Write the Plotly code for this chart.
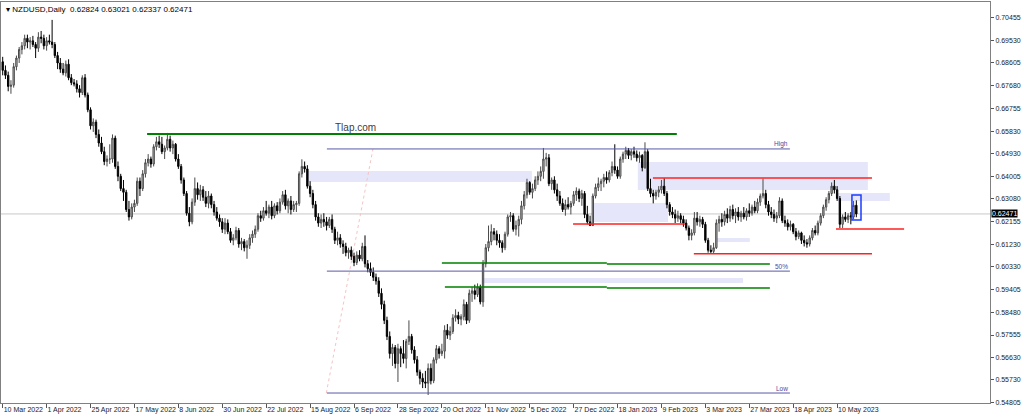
import plotly.graph_objects as go

opens = [
0.6865,0.6830,0.6810,0.6765,0.6770,0.6845,0.6880,0.6915,0.6930,0.6960,
0.6945,0.6950,0.6935,0.6920,0.6965,0.6960,0.6930,0.6950,0.6945,0.6935,
0.6890,0.6860,0.6835,0.6820,0.6855,0.6800,0.6780,0.6775,0.6755,0.6740,
0.6800,0.6730,0.6670,0.6605,0.6620,0.6570,0.6535,0.6500,0.6460,0.6470,
0.6470,0.6555,0.6440,0.6400,0.6350,0.6335,0.6265,0.6235,0.6275,0.6290,
0.6380,0.6350,0.6410,0.6455,0.6470,0.6450,0.6520,0.6540,0.6530,0.6500,
0.6515,0.6550,0.6515,0.6530,0.6470,0.6440,0.6385,0.6330,0.6250,0.6215,
0.6295,0.6350,0.6325,0.6345,0.6315,0.6290,0.6320,0.6285,0.6255,0.6230,
0.6215,0.6185,0.6210,0.6175,0.6140,0.6150,0.6180,0.6125,0.6135,0.6110,
0.6120,0.6150,0.6165,0.6185,0.6240,0.6230,0.6260,0.6250,0.6275,0.6240,
0.6280,0.6260,0.6295,0.6325,0.6280,0.6300,0.6265,0.6285,0.6290,0.6410,
0.6440,0.6430,0.6360,0.6330,0.6285,0.6235,0.6210,0.6225,0.6215,0.6200,
0.6225,0.6185,0.6140,0.6150,0.6125,0.6115,0.6090,0.6100,0.6075,0.6050,
0.6080,0.6065,0.6115,0.6045,0.6025,0.6010,0.5990,0.5975,0.5925,0.5880,
0.5815,0.5750,0.5680,0.5705,0.5640,0.5700,0.5680,0.5660,0.5730,0.5750,
0.5695,0.5655,0.5605,0.5580,0.5565,0.5560,0.5620,0.5570,0.5655,0.5700,
0.5680,0.5690,0.5775,0.5755,0.5770,0.5825,0.5835,0.5820,0.5830,0.5880,
0.5815,0.5925,0.5935,0.5920,0.5950,0.5890,0.6045,0.6110,0.6135,0.6175,
0.6165,0.6140,0.6130,0.6110,0.6165,0.6235,0.6240,0.6185,0.6200,0.6225,
0.6280,0.6325,0.6375,0.6335,0.6350,0.6385,0.6400,0.6420,0.6470,0.6475,
0.6370,0.6385,0.6345,0.6320,0.6290,0.6265,0.6285,0.6275,0.6290,0.6325,
0.6340,0.6310,0.6330,0.6245,0.6215,0.6200,0.6320,0.6355,0.6370,0.6380,
0.6395,0.6385,0.6415,0.6440,0.6425,0.6400,0.6470,0.6490,0.6505,0.6485,
0.6500,0.6490,0.6475,0.6485,0.6435,0.6500,0.6350,0.6330,0.6320,0.6335,
0.6345,0.6360,0.6330,0.6285,0.6255,0.6245,0.6230,0.6240,0.6225,0.6210,
0.6190,0.6160,0.6170,0.6230,0.6215,0.6225,0.6205,0.6140,0.6100,0.6095,
0.6110,0.6210,0.6225,0.6215,0.6245,0.6230,0.6265,0.6240,0.6255,0.6235,
0.6250,0.6235,0.6260,0.6250,0.6275,0.6260,0.6295,0.6320,0.6330,0.6285,
0.6255,0.6245,0.6230,0.6240,0.6300,0.6220,0.6210,0.6195,0.6205,0.6175,
0.6155,0.6170,0.6140,0.6130,0.6125,0.6150,0.6180,0.6170,0.6210,0.6240,
0.6275,0.6305,0.6330,0.6360,0.6345,0.6310,0.6205,0.6235,0.6225,0.6240,
0.6235,0.62824]

highs = [
0.6885,0.6850,0.6825,0.6790,0.6860,0.6890,0.6925,0.6945,0.6975,0.6975,
0.6965,0.6970,0.6945,0.6985,0.6990,0.6975,0.6965,0.6975,0.7035,0.6945,
0.6905,0.6880,0.6860,0.6870,0.6875,0.6815,0.6795,0.6790,0.6770,0.6810,
0.6815,0.6740,0.6680,0.6635,0.6630,0.6590,0.6560,0.6520,0.6485,0.6530,
0.6570,0.6565,0.6460,0.6410,0.6385,0.6345,0.6300,0.6290,0.6305,0.6395,
0.6395,0.6425,0.6470,0.6490,0.6480,0.6530,0.6560,0.6565,0.6560,0.6525,
0.6576,0.6565,0.6545,0.6535,0.6490,0.6450,0.6395,0.6340,0.6275,0.6310,
0.6395,0.6375,0.6365,0.6360,0.6340,0.6340,0.6330,0.6300,0.6275,0.6245,
0.6230,0.6230,0.6225,0.6190,0.6165,0.6195,0.6190,0.6150,0.6145,0.6140,
0.6165,0.6180,0.6200,0.6250,0.6260,0.6275,0.6300,0.6285,0.6300,0.6290,
0.6295,0.6310,0.6340,0.6345,0.6310,0.6320,0.6300,0.6300,0.6420,0.6469,
0.6460,0.6445,0.6380,0.6345,0.6300,0.6250,0.6245,0.6250,0.6235,0.6235,
0.6245,0.6195,0.6175,0.6165,0.6140,0.6130,0.6110,0.6115,0.6090,0.6095,
0.6100,0.6130,0.6160,0.6060,0.6050,0.6030,0.6005,0.5990,0.5945,0.5895,
0.5830,0.5770,0.5720,0.5715,0.5720,0.5710,0.5735,0.5740,0.5815,0.5760,
0.5710,0.5670,0.5615,0.5600,0.5610,0.5640,0.5640,0.5665,0.5715,0.5710,
0.5720,0.5795,0.5800,0.5790,0.5840,0.5860,0.5850,0.5840,0.5900,0.5890,
0.5940,0.5950,0.5960,0.5965,0.5960,0.6060,0.6125,0.6200,0.6205,0.6190,
0.6180,0.6165,0.6140,0.6175,0.6245,0.6255,0.6250,0.6220,0.6240,0.6300,
0.6340,0.6390,0.6380,0.6370,0.6400,0.6420,0.6440,0.6515,0.6495,0.6490,
0.6395,0.6400,0.6370,0.6340,0.6310,0.6305,0.6315,0.6300,0.6340,0.6355,
0.6350,0.6345,0.6340,0.6280,0.6240,0.6330,0.6370,0.6395,0.6390,0.6410,
0.6420,0.6425,0.6460,0.6530,0.6440,0.6480,0.6500,0.6520,0.6515,0.6510,
0.6520,0.6505,0.6500,0.6490,0.6538,0.6510,0.6390,0.6345,0.6345,0.6360,
0.6385,0.6392,0.6340,0.6295,0.6275,0.6265,0.6260,0.6250,0.6240,0.6225,
0.6200,0.6185,0.6255,0.6255,0.6240,0.6235,0.6215,0.6150,0.6120,0.6130,
0.6225,0.6240,0.6250,0.6260,0.6270,0.6280,0.6285,0.6270,0.6275,0.6260,
0.6275,0.6270,0.6290,0.6285,0.6300,0.6310,0.6330,0.6390,0.6345,0.6300,
0.6275,0.6265,0.6255,0.6315,0.6310,0.6240,0.6225,0.6220,0.6210,0.6190,
0.6180,0.6175,0.6160,0.6145,0.6160,0.6190,0.6200,0.6220,0.6250,0.6285,
0.6315,0.6340,0.6375,0.6385,0.6360,0.6320,0.6245,0.6255,0.6250,0.6255,
0.6300,0.63021]

lows = [
0.6810,0.6795,0.6745,0.6735,0.6760,0.6830,0.6860,0.6895,0.6915,0.6920,
0.6915,0.6925,0.6880,0.6905,0.6940,0.6915,0.6910,0.6935,0.6920,0.6880,
0.6835,0.6820,0.6810,0.6805,0.6790,0.6770,0.6765,0.6740,0.6720,0.6730,
0.6720,0.6660,0.6590,0.6580,0.6555,0.6520,0.6490,0.6445,0.6440,0.6450,
0.6455,0.6430,0.6380,0.6340,0.6300,0.6255,0.6220,0.6225,0.6255,0.6280,
0.6320,0.6340,0.6395,0.6440,0.6435,0.6440,0.6505,0.6515,0.6490,0.6470,
0.6505,0.6500,0.6490,0.6460,0.6430,0.6370,0.6320,0.6240,0.6197,0.6205,
0.6280,0.6305,0.6300,0.6300,0.6275,0.6270,0.6270,0.6240,0.6220,0.6195,
0.6170,0.6165,0.6165,0.6130,0.6120,0.6140,0.6110,0.6100,0.6095,0.6065,
0.6105,0.6130,0.6150,0.6175,0.6215,0.6220,0.6240,0.6230,0.6225,0.6230,
0.6245,0.6250,0.6285,0.6265,0.6250,0.6245,0.6255,0.6255,0.6280,0.6395,
0.6415,0.6350,0.6315,0.6270,0.6220,0.6195,0.6190,0.6195,0.6180,0.6190,
0.6170,0.6125,0.6120,0.6110,0.6085,0.6075,0.6065,0.6060,0.6035,0.6040,
0.6055,0.6055,0.6030,0.6010,0.5995,0.5975,0.5960,0.5910,0.5860,0.5800,
0.5735,0.5660,0.5630,0.5620,0.5565,0.5625,0.5640,0.5620,0.5715,0.5680,
0.5640,0.5590,0.5555,0.5540,0.5540,0.5512,0.5555,0.5560,0.5640,0.5660,
0.5670,0.5660,0.5740,0.5735,0.5760,0.5810,0.5800,0.5795,0.5815,0.5800,
0.5805,0.5890,0.5900,0.5910,0.5880,0.5870,0.6030,0.6095,0.6120,0.6140,
0.6120,0.6110,0.6090,0.6100,0.6155,0.6215,0.6175,0.6160,0.6155,0.6205,
0.6265,0.6310,0.6325,0.6310,0.6340,0.6365,0.6380,0.6390,0.6440,0.6360,
0.6345,0.6330,0.6300,0.6280,0.6255,0.6240,0.6265,0.6245,0.6280,0.6300,
0.6295,0.6280,0.6230,0.6205,0.6200,0.6198,0.6310,0.6340,0.6340,0.6355,
0.6370,0.6375,0.6400,0.6410,0.6390,0.6390,0.6455,0.6470,0.6470,0.6465,
0.6475,0.6460,0.6455,0.6420,0.6430,0.6340,0.6315,0.6290,0.6305,0.6315,
0.6330,0.6320,0.6270,0.6240,0.6230,0.6210,0.6215,0.6210,0.6195,0.6180,
0.6140,0.6140,0.6160,0.6200,0.6195,0.6190,0.6130,0.6090,0.6085,0.6085,
0.6105,0.6175,0.6195,0.6200,0.6210,0.6215,0.6225,0.6210,0.6220,0.6215,
0.6225,0.6220,0.6235,0.6240,0.6250,0.6250,0.6280,0.6310,0.6270,0.6240,
0.6230,0.6215,0.6210,0.6230,0.6210,0.6195,0.6180,0.6180,0.6165,0.6140,
0.6145,0.6125,0.6115,0.6110,0.6115,0.6140,0.6160,0.6160,0.6200,0.6230,
0.6260,0.6290,0.6320,0.6330,0.6300,0.6190,0.6190,0.6215,0.6210,0.6205,
0.6225,0.62337]

closes = [
0.6830,0.6810,0.6765,0.6770,0.6845,0.6880,0.6915,0.6930,0.6960,0.6945,
0.6950,0.6935,0.6920,0.6965,0.6960,0.6930,0.6950,0.6945,0.6935,0.6890,
0.6860,0.6835,0.6820,0.6855,0.6800,0.6780,0.6775,0.6755,0.6740,0.6800,
0.6730,0.6670,0.6605,0.6620,0.6570,0.6535,0.6500,0.6460,0.6470,0.6470,
0.6555,0.6440,0.6400,0.6350,0.6335,0.6265,0.6235,0.6275,0.6290,0.6380,
0.6350,0.6410,0.6455,0.6470,0.6450,0.6520,0.6540,0.6530,0.6500,0.6515,
0.6550,0.6515,0.6530,0.6470,0.6440,0.6385,0.6330,0.6250,0.6215,0.6295,
0.6350,0.6325,0.6345,0.6315,0.6290,0.6320,0.6285,0.6255,0.6230,0.6215,
0.6185,0.6210,0.6175,0.6140,0.6150,0.6180,0.6125,0.6135,0.6110,0.6120,
0.6150,0.6165,0.6185,0.6240,0.6230,0.6260,0.6250,0.6275,0.6240,0.6280,
0.6260,0.6295,0.6325,0.6280,0.6300,0.6265,0.6285,0.6290,0.6410,0.6440,
0.6430,0.6360,0.6330,0.6285,0.6235,0.6210,0.6225,0.6215,0.6200,0.6225,
0.6185,0.6140,0.6150,0.6125,0.6115,0.6090,0.6100,0.6075,0.6050,0.6080,
0.6065,0.6115,0.6045,0.6025,0.6010,0.5990,0.5975,0.5925,0.5880,0.5815,
0.5750,0.5680,0.5705,0.5640,0.5700,0.5680,0.5660,0.5730,0.5750,0.5695,
0.5655,0.5605,0.5580,0.5565,0.5560,0.5620,0.5570,0.5655,0.5700,0.5680,
0.5690,0.5775,0.5755,0.5770,0.5825,0.5835,0.5820,0.5830,0.5880,0.5815,
0.5925,0.5935,0.5920,0.5950,0.5890,0.6045,0.6110,0.6135,0.6175,0.6165,
0.6140,0.6130,0.6110,0.6165,0.6235,0.6240,0.6185,0.6200,0.6225,0.6280,
0.6325,0.6375,0.6335,0.6350,0.6385,0.6400,0.6420,0.6470,0.6475,0.6370,
0.6385,0.6345,0.6320,0.6290,0.6265,0.6285,0.6275,0.6290,0.6325,0.6340,
0.6310,0.6330,0.6245,0.6215,0.6200,0.6320,0.6355,0.6370,0.6380,0.6395,
0.6385,0.6415,0.6440,0.6425,0.6400,0.6470,0.6490,0.6505,0.6485,0.6500,
0.6490,0.6475,0.6485,0.6435,0.6500,0.6350,0.6330,0.6320,0.6335,0.6345,
0.6360,0.6330,0.6285,0.6255,0.6245,0.6230,0.6240,0.6225,0.6210,0.6190,
0.6160,0.6170,0.6230,0.6215,0.6225,0.6205,0.6140,0.6100,0.6095,0.6110,
0.6210,0.6225,0.6215,0.6245,0.6230,0.6265,0.6240,0.6255,0.6235,0.6250,
0.6235,0.6260,0.6250,0.6275,0.6260,0.6295,0.6320,0.6330,0.6285,0.6255,
0.6245,0.6230,0.6240,0.6300,0.6220,0.6210,0.6195,0.6205,0.6175,0.6155,
0.6170,0.6140,0.6130,0.6125,0.6150,0.6180,0.6170,0.6210,0.6240,0.6275,
0.6305,0.6330,0.6360,0.6345,0.6310,0.6205,0.6235,0.6225,0.6240,0.6235,
0.6282,0.62471]

date_ticks = [0, 16, 32, 48, 64, 80, 96, 112, 128, 144, 160, 176, 192, 208,
              224, 240, 256, 272, 288, 304]
date_labels = ["10 Mar 2022", "1 Apr 2022", "25 Apr 2022", "17 May 2022",
               "8 Jun 2022", "30 Jun 2022", "22 Jul 2022", "15 Aug 2022",
               "6 Sep 2022", "28 Sep 2022", "20 Oct 2022", "11 Nov 2022",
               "5 Dec 2022", "27 Dec 2022", "18 Jan 2023", "9 Feb 2023",
               "3 Mar 2023", "27 Mar 2023", "18 Apr 2023", "10 May 2023"]
price_ticks = [0.70455, 0.69530, 0.68605, 0.67680, 0.66755, 0.65830, 0.64930,
               0.64005, 0.63080, 0.62155, 0.61230, 0.60330, 0.59405, 0.58480,
               0.57555, 0.56630, 0.55730, 0.54805]
price_labels = ["%.5f" % v for v in price_ticks]

last_price = closes[-1]
fib_levels = {"High": 0.6511, "50%": 0.6015, "Low": 0.5520}

bars = list(range(len(closes)))
FONT = "Liberation Sans"

fig = go.Figure()
fig.add_trace(go.Candlestick(
    x=bars, open=opens, high=highs, low=lows, close=closes,
    increasing=dict(line=dict(color="#4a4a4a", width=1), fillcolor="#c4c4c4"),
    decreasing=dict(line=dict(color="#000000", width=1), fillcolor="#000000"),
    whiskerwidth=0, hoverinfo="skip", showlegend=False))

shapes = []
def rect(x0, x1, y0, y1):
    shapes.append(dict(type="rect", xref="x", yref="y", x0=x0, x1=x1, y0=y0, y1=y1,
                       fillcolor="#e6e6fa", line=dict(width=0), layer="below"))
def hline(x0, x1, y, color, width=1.5, dash="solid"):
    shapes.append(dict(type="line", xref="x", yref="y", x0=x0, x1=x1, y0=y, y1=y,
                       line=dict(color=color, width=width, dash=dash), layer="above"))

# lavender zones
rect(110.9, 192.8, 0.6377, 0.6421)
rect(231.4, 315.2, 0.6344, 0.6458)
rect(303.9, 323.2, 0.6300, 0.6332)
rect(215.0, 242.4, 0.6214, 0.6292)
rect(260.2, 272.2, 0.6133, 0.6149)
rect(174.6, 269.7, 0.5967, 0.5987)

# current price line
shapes.append(dict(type="line", xref="paper", yref="y", x0=0, x1=1,
                   y0=last_price, y1=last_price,
                   line=dict(color="#c8c8c8", width=1), layer="below"))

# green levels
hline(52.6, 245.6, 0.6572, "#008000", 2)
hline(160.0, 220.1, 0.6048, "#008000", 1.5)
hline(220.1, 279.5, 0.6044, "#008000", 1.5)
hline(161.1, 220.1, 0.5950, "#008000", 1.5)
hline(220.1, 279.5, 0.5946, "#008000", 1.5)

# fibo lines
for name, lvl in fib_levels.items():
    hline(118.1, 286.8, lvl, "#5a5aa8", 1)
shapes.append(dict(type="line", xref="x", yref="y", x0=117.9, x1=134.9,
                   y0=fib_levels["Low"], y1=fib_levels["High"],
                   line=dict(color="#f4c4c4", width=1, dash="dot"), layer="below"))

# red levels
hline(207.8, 248.6, 0.6206, "#ff2020", 1.5)
hline(236.9, 316.7, 0.6393, "#ff2020", 1.5)
hline(251.8, 316.7, 0.6085, "#ff2020", 1.5)
hline(303.6, 328.4, 0.6186, "#ff2020", 1.5)

# blue box around last candles
shapes.append(dict(type="rect", xref="x", yref="y", x0=309.4, x1=312.7,
                   y0=0.6222, y1=0.6324, line=dict(color="#1a3cff", width=1.5),
                   fillcolor="rgba(0,0,0,0)", layer="above"))

annotations = [
    dict(xref="paper", yref="paper", x=0, y=1, xanchor="left", yanchor="top",
         xshift=3, yshift=-1, showarrow=False,
         text="\u25be NZDUSD,Daily  0.62824 0.63021 0.62337 0.62471",
         font=dict(family=FONT, size=8, color="#000000")),
    dict(xref="x", yref="y", x=128.7, y=0.6600, showarrow=False,
         text="Tlap.com", font=dict(family=FONT, size=10, color="#404040")),
    dict(xref="paper", yref="y", x=1, y=last_price, xanchor="left", yanchor="middle",
         xshift=1, showarrow=False, text=f"{last_price:.5f}", bgcolor="#000000",
         borderpad=0, font=dict(family=FONT, size=7, color="#ffffff")),
]
for name, lvl in fib_levels.items():
    annotations.append(dict(xref="x", yref="y", x=286.8, y=lvl, xanchor="right",
                            yanchor="bottom", showarrow=False, text=name, yshift=-1,
                            font=dict(family=FONT, size=6.5, color="#4a4aa0")))

fig.update_layout(
    width=1024, height=418,
    margin=dict(l=1, r=34, t=2, b=15, autoexpand=False),
    paper_bgcolor="white", plot_bgcolor="white",
    shapes=shapes, annotations=annotations, showlegend=False,
    xaxis=dict(range=[-0.62, 359.7], rangeslider=dict(visible=False),
               tickvals=date_ticks, ticktext=date_labels, ticks="outside",
               ticklen=4, tickcolor="#555555", ticklabelposition="outside right",
               tickangle=0, automargin=False,
               tickfont=dict(family=FONT, size=7, color="#222222"),
               showgrid=False, zeroline=False, showline=True, mirror=True,
               linecolor="#808080", linewidth=1),
    yaxis=dict(range=[0.54795, 0.71076], side="right", tickvals=price_ticks,
               ticktext=price_labels, ticks="outside", ticklen=3,
               tickcolor="#555555", automargin=False,
               tickfont=dict(family=FONT, size=7, color="#222222"),
               showgrid=False, zeroline=False, showline=True, mirror=True,
               linecolor="#808080", linewidth=1),
)

fig.write_html("out.html", config={"displayModeBar": False},
               post_script="document.body.style.margin='0px';document.body.style.overflow='hidden';")
